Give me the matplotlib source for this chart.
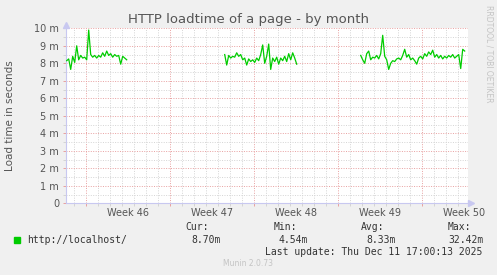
import numpy as np
import matplotlib
matplotlib.use('Agg')
import matplotlib.pyplot as plt
import matplotlib.dates as mdates
from datetime import datetime, timedelta

# load time samples (milliseconds), one every 4 hours, three runs with gaps between
seg_starts = ['2025-11-08 10:00', '2025-11-21 14:00', '2025-12-02 22:00']
seg1 = [8.15, 8.25, 7.65, 8.4, 8.05, 9.0, 8.2, 8.45, 8.3, 8.35, 8.2, 9.9, 8.5, 8.35, 8.45, 8.3,
        8.45, 8.35, 8.6, 8.4, 8.7, 8.45, 8.55, 8.35, 8.5, 8.4, 8.45, 7.95, 8.4, 8.3, 8.2]
seg2 = [8.5, 7.9, 8.45, 8.3, 8.4, 8.35, 8.6, 8.4, 8.5, 8.2, 8.3, 7.9, 8.25, 8.1, 8.2, 8.05,
        8.3, 8.15, 8.5, 9.05, 8.0, 8.4, 9.1, 7.65, 8.3, 8.1, 8.35, 7.95, 8.3, 8.15, 8.4, 8.1,
        8.55, 8.2, 8.6, 8.3, 7.95]
seg3 = [8.45, 8.2, 8.0, 8.55, 8.7, 8.2, 8.35, 8.3, 8.45, 8.25, 8.55, 9.6, 8.4, 8.2, 7.65, 8.0,
        8.15, 8.1, 8.25, 8.3, 8.2, 8.45, 8.8, 8.35, 8.5, 8.2, 8.3, 8.15, 7.95, 8.3, 8.4, 8.25,
        8.55, 8.4, 8.65, 8.5, 8.75, 8.35, 8.5, 8.3, 8.45, 8.25, 8.4, 8.3, 8.45, 8.35, 8.5, 8.3,
        8.4, 8.5, 7.7, 8.8, 8.7]
segments = [seg1, seg2, seg3]

week_names = ['Week 46', 'Week 47', 'Week 48', 'Week 49', 'Week 50']
week_mondays = ['2025-11-10', '2025-11-17', '2025-11-24', '2025-12-01', '2025-12-08']
stat_names = ['Cur:', 'Min:', 'Avg:', 'Max:']
stat_values = ['8.70m', '4.54m', '8.33m', '32.42m']
series_name = 'http://localhost/'

t0 = datetime(2025, 11, 8, 8, 36)
t1 = datetime(2025, 12, 11, 20, 36)

BG = '#F0F0F0'
GREEN = '#00CC00'
AXC = '#C8C8F0'
MAJ = '#E8A0A0'
MINC = '#D4D4D4'
TXT = '#555555'

fig = plt.figure(figsize=(4.97, 2.75), dpi=100, facecolor=BG)
W, H = 497, 275
ax = fig.add_axes([66 / W, 1 - 203.3 / H, (468 - 66) / W, (203.3 - 28.3) / H])
ax.set_facecolor('white')

for start, vals in zip(seg_starts, segments):
    ts = datetime.strptime(start, '%Y-%m-%d %H:%M')
    times = [ts + timedelta(hours=4 * i) for i in range(len(vals))]
    ax.plot(times, vals, color=GREEN, lw=0.9, zorder=3)

ax.set_xlim(t0, t1)
ax.set_ylim(0, 10)

mondays = [datetime.strptime(d, '%Y-%m-%d') for d in week_mondays]
ax.set_xticks(mondays)
ax.xaxis.set_minor_locator(mdates.DayLocator())
ax.set_xticklabels([])
ax.set_yticks(range(0, 11))
ax.set_yticklabels(['0'] + ['%d m' % v for v in range(1, 11)])
ax.set_yticks(np.arange(0.5, 10, 1), minor=True)

ax.grid(which='major', color=MAJ, ls=(0, (1, 1.5)), lw=0.7)
ax.grid(which='minor', color=MINC, ls=(0, (1, 1.5)), lw=0.7)
ax.set_axisbelow(True)

ax.tick_params(axis='both', which='major', length=2, width=0.7, color=MAJ,
               labelsize=7, labelcolor=TXT, pad=3)
ax.tick_params(axis='both', which='minor', length=2, width=0.7, color=MINC)

for s in ['top', 'right']:
    ax.spines[s].set_visible(False)
for s in ['left', 'bottom']:
    ax.spines[s].set_color(AXC)
    ax.spines[s].set_linewidth(0.8)
ax.plot([0], [1.02], marker='^', color=AXC, ms=4, transform=ax.transAxes, clip_on=False)
ax.plot([1.008], [0], marker='>', color=AXC, ms=4, transform=ax.transAxes, clip_on=False)

for name, m in zip(week_names, mondays):
    ax.text(m + timedelta(days=3.5), -0.053, name, transform=ax.get_xaxis_transform(),
            ha='center', va='center', fontsize=7, color=TXT)

fig.text(248 / W, 1 - 19 / H, 'HTTP loadtime of a page - by month', ha='center',
         va='center', fontsize=9.5, color='#555555')
fig.text(10 / W, 1 - 115.7 / H, 'Load time in seconds', rotation=90, ha='center',
         va='center', fontsize=7.5, color=TXT)
fig.text(489 / W, 1 - 5 / H, 'RRDTOOL / TOBI OETIKER', rotation=270, ha='center',
         va='top', fontsize=5.5, color='#C4C4C4')

mono = 'DejaVu Sans Mono'
fig.patches.append(plt.Rectangle((14 / W, 1 - 243 / H), 6 / W, 6 / H, color=GREEN,
                                 transform=fig.transFigure))
fig.text(26.7 / W, 1 - 240 / H, series_name, family=mono, fontsize=7, va='center', color='#333333')
name_x = [185.7, 273.3, 360.7, 447.3]
val_right = [221, 308.3, 396, 483.3]
for n, v, nx, vx in zip(stat_names, stat_values, name_x, val_right):
    fig.text(nx / W, 1 - 227.3 / H, n, family=mono, fontsize=7, va='center', color='#333333')
    fig.text(vx / W, 1 - 240 / H, v, family=mono, fontsize=7, va='center', ha='right', color='#333333')
fig.text(482.7 / W, 1 - 251.7 / H, 'Last update: Thu Dec 11 17:00:13 2025', family=mono,
         fontsize=7, va='center', ha='right', color='#333333')
fig.text(248 / W, 1 - 264 / H, 'Munin 2.0.73', ha='center', va='center', fontsize=5.5,
         color='#C4C4C4')

fig.savefig('out.png', dpi=100, facecolor=BG)
